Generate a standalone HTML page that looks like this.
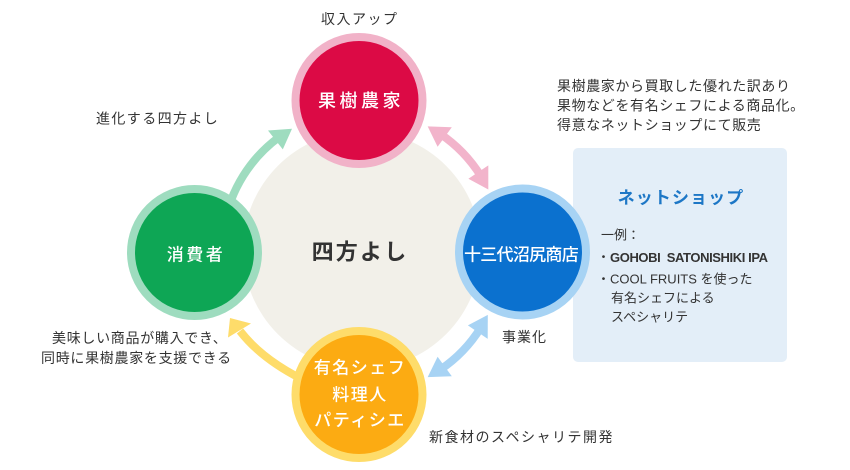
<!DOCTYPE html>
<html lang="ja">
<head>
<meta charset="utf-8">
<style>
  html,body{margin:0;padding:0;background:#fff;width:850px;height:470px;overflow:hidden;}
  svg{display:block;}
  text{font-family:"Liberation Sans","Noto Sans CJK JP",sans-serif;}
</style>
</head>
<body>
<svg width="850" height="470" viewBox="0 0 850 470" xmlns="http://www.w3.org/2000/svg">
  <rect x="0" y="0" width="850" height="470" fill="#ffffff"/>

  <!-- central beige circle -->
  <circle cx="362" cy="250" r="119" fill="#f2f0e9"/>

  <!-- right info box -->
  <rect x="573" y="148" width="214" height="214" rx="5" ry="5" fill="#e3eef8"/>

  <!-- arrows -->
  <path d="M224.1,225.7 A140,140 0 0 1 279.7,136.7" fill="none" stroke="#9edcbf" stroke-width="8"/>
  <polygon points="292,128.8 268,130.5 282.8,149.4" fill="#9edcbf"/>

  <path d="M440.3,133.9 A140,140 0 0 1 480.7,175.8" fill="none" stroke="#f2b4cb" stroke-width="8"/>
  <polygon points="427.7,126.4 451.8,127.3 437.6,146.7" fill="#f2b4cb"/>
  <polygon points="488.3,189.5 488.3,165.4 468.4,178.8" fill="#f2b4cb"/>

  <path d="M480.7,327.7 A140,140 0 0 1 440.3,369.6" fill="none" stroke="#a7d3f4" stroke-width="8"/>
  <polygon points="487.8,314.9 487.7,338.9 467.9,325.4" fill="#a7d3f4"/>
  <polygon points="427.7,377.1 451.8,376.2 437.6,356.8" fill="#a7d3f4"/>

  <path d="M312,384 Q264,362 240,331" fill="none" stroke="#fedc6a" stroke-width="8"/>
  <polygon points="230,318 251,323.5 228,337.5" fill="#fedc6a"/>

  <!-- node circles -->
  <circle cx="359" cy="100.5" r="63.5" fill="#dc0a45" stroke="#f1b2c8" stroke-width="8"/>
  <circle cx="194.5" cy="252.5" r="63.5" fill="#0ea655" stroke="#9edcbf" stroke-width="8"/>
  <circle cx="522.5" cy="252" r="63.5" fill="#0b71cf" stroke="#a7d3f4" stroke-width="8"/>
  <circle cx="359" cy="394.5" r="63.5" fill="#fcab12" stroke="#fedc6a" stroke-width="8"/>

  <!-- node labels -->
  <text x="361" y="101" fill="#ffffff" font-size="18" font-weight="500" letter-spacing="3.5" text-anchor="middle" dominant-baseline="central">果樹農家</text>
  <text x="196" y="255" fill="#ffffff" font-size="17" font-weight="500" letter-spacing="2.5" text-anchor="middle" dominant-baseline="central">消費者</text>
  <text x="521" y="255" fill="#ffffff" font-size="17" font-weight="500" letter-spacing="-0.7" text-anchor="middle" dominant-baseline="central">十三代沼尻商店</text>
  <text x="360" y="368" fill="#ffffff" font-size="17" font-weight="500" letter-spacing="1.5" text-anchor="middle" dominant-baseline="central">有名シェフ</text>
  <text x="360" y="395" fill="#ffffff" font-size="17" font-weight="500" letter-spacing="1.5" text-anchor="middle" dominant-baseline="central">料理人</text>
  <text x="360" y="420.5" fill="#ffffff" font-size="17" font-weight="500" letter-spacing="1.5" text-anchor="middle" dominant-baseline="central">パティシエ</text>

  <!-- center label -->
  <text x="360" y="252" fill="#333333" font-size="22" font-weight="bold" letter-spacing="2.2" text-anchor="middle" dominant-baseline="central">四方よし</text>

  <!-- outer labels -->
  <text x="321" y="19" fill="#333333" font-size="14" letter-spacing="1.5" dominant-baseline="central">収入アップ</text>
  <text x="96" y="118.5" fill="#333333" font-size="14" letter-spacing="1.4" dominant-baseline="central">進化する四方よし</text>
  <text x="52" y="338" fill="#333333" font-size="14" letter-spacing="0.7" dominant-baseline="central">美味しい商品が購入でき、</text>
  <text x="41" y="358" fill="#333333" font-size="14" letter-spacing="0.7" dominant-baseline="central">同時に果樹農家を支援できる</text>
  <text x="502" y="337" fill="#333333" font-size="14" letter-spacing="1" dominant-baseline="central">事業化</text>
  <text x="429" y="437" fill="#333333" font-size="14" letter-spacing="1.5" dominant-baseline="central">新食材のスペシャリテ開発</text>

  <!-- top right description -->
  <text x="557" y="86" fill="#333333" font-size="14" letter-spacing="0.6" dominant-baseline="central">果樹農家から買取した優れた訳あり</text>
  <text x="557" y="105.5" fill="#333333" font-size="14" letter-spacing="0.6" dominant-baseline="central">果物などを有名シェフによる商品化。</text>
  <text x="557" y="125" fill="#333333" font-size="14" letter-spacing="0.6" dominant-baseline="central">得意なネットショップにて販売</text>

  <!-- box content -->
  <text x="681" y="198" fill="#1d77c6" font-size="17" font-weight="bold" letter-spacing="1.1" text-anchor="middle" dominant-baseline="central">ネットショップ</text>
  <text x="601" y="235" fill="#333333" font-size="13" dominant-baseline="central">一例：</text>
  <text x="597" y="257" fill="#333333" font-size="13" dominant-baseline="central">・<tspan font-weight="bold" letter-spacing="-0.4">GOHOBI&#160;&#160;SATONISHIKI IPA</tspan></text>
  <text x="597" y="279" fill="#333333" font-size="13" dominant-baseline="central">・COOL FRUITS を使った</text>
  <text x="611" y="298" fill="#333333" font-size="13" dominant-baseline="central">有名シェフによる</text>
  <text x="611" y="317" fill="#333333" font-size="13" dominant-baseline="central">スペシャリテ</text>
</svg>
</body>
</html>
